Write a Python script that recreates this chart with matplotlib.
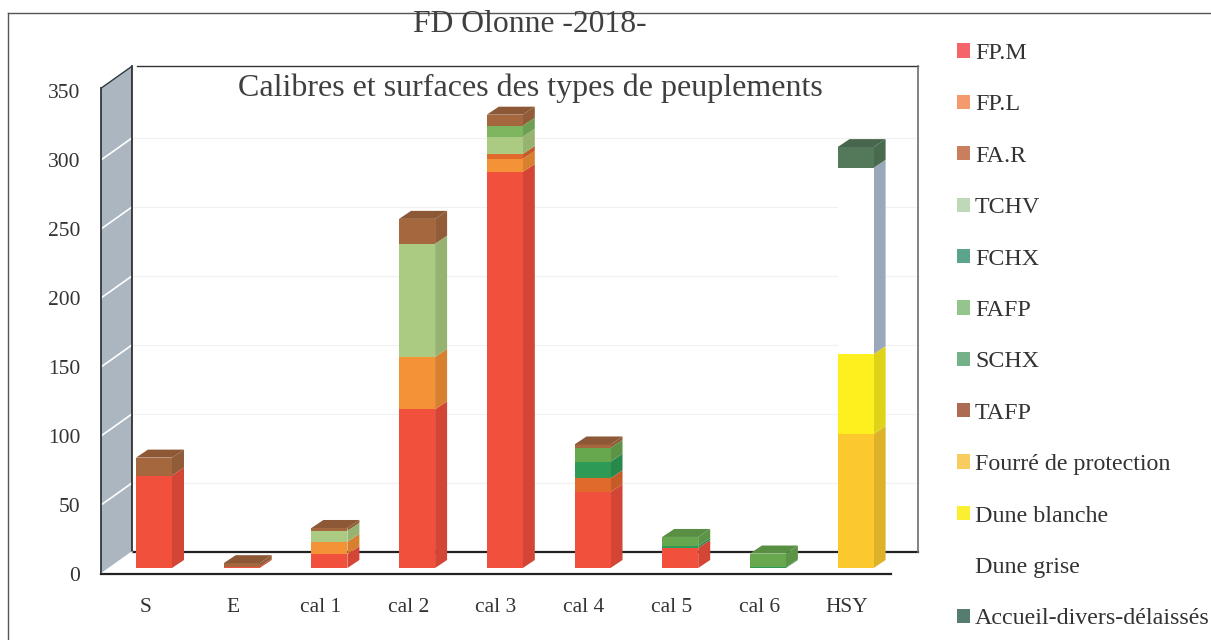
import matplotlib
matplotlib.use("Agg")
import matplotlib.pyplot as plt
from matplotlib.patches import Patch, Polygon
from matplotlib.colors import to_rgb
import numpy as np

plt.rcParams['font.family'] = ['Liberation Serif', 'DejaVu Serif']

W, H = 1211, 640

categories = ["S", "E", "cal 1", "cal 2", "cal 3", "cal 4", "cal 5", "cal 6", "HSY"]
series_names = ["FP.M", "FP.L", "FA.R", "TCHV", "FCHX", "FAFP", "SCHX", "TAFP",
                "Fourré de protection", "Dune blanche", "Dune grise",
                "Accueil-divers-délaissés"]

fp_m = [67, 1, 10, 115, 287, 55, 14.5, 0, 0]
fp_l = [0, 0, 9, 38, 9.5, 0, 0, 0, 0]
fa_r = [0, 0, 0, 0, 3.5, 10, 0, 0, 0]
tchv = [0, 0, 8, 82, 12.5, 0, 0, 0, 0]
fchx = [0, 0, 0, 0, 0, 12, 1.5, 0.5, 0]
fafp = [0, 0, 0, 0, 8, 0, 0, 0, 0]
schx = [0, 0, 0, 0, 0, 10, 6.5, 10, 0]
tafp = [13, 2.5, 2, 18, 8, 2.5, 0, 0, 0]
fourre = [0, 0, 0, 0, 0, 0, 0, 0, 97]
dune_blanche = [0, 0, 0, 0, 0, 0, 0, 0, 58]
dune_grise = [0, 0, 0, 0, 0, 0, 0, 0, 135]
accueil = [0, 0, 0, 0, 0, 0, 0, 0, 15]
values = [fp_m, fp_l, fa_r, tchv, fchx, fafp, schx, tafp, fourre, dune_blanche, dune_grise, accueil]

bar_colors = ["#F0503C", "#F39237", "#E0692C", "#ACCB82", "#2D9A55", "#7DB65E", "#67A84F",
              "#A5683E", "#FBC92D", "#FDF01E", "#FFFFFF", "#54785A"]
legend_colors = ["#F5646A", "#F49A6E", "#C97E5E", "#BFD9B8", "#5BA38A", "#93C58C", "#74B088",
                 "#AD6B53", "#F9CC5F", "#FBF030", "none", "#557C6E"]
yticks = [0, 50, 100, 150, 200, 250, 300, 350]

# pixel layout of the fake 3D box
px_left, px_right, px_y0 = 101, 891, 574
px_per_cat, px_per_val = 87.7, 1.38
first_center = 154
x_left = (px_left - first_center) / px_per_cat
x_right = (px_right - first_center) / px_per_cat
y_top = 352

wall_dx = 31 / px_per_cat
wall_dy = 22 / px_per_val
bar_dx = 12 / px_per_cat
bar_dy = 8 / px_per_val
lift = 6 / px_per_val
width = 36 / px_per_cat
back_right = (918 - first_center) / px_per_cat


def shade(c, k=0.88):
    return tuple(v * k for v in to_rgb(c))


fig = plt.figure(figsize=(W / 100, H / 100), dpi=100)
ax = fig.add_axes([px_left / W, 1 - px_y0 / H, (px_right - px_left) / W, (y_top * px_per_val) / H])
ax.set_xlim(x_left, x_right)
ax.set_ylim(0, y_top)
for s in ax.spines.values():
    s.set_visible(False)
ax.patch.set_visible(False)

# left wall
back = x_left + wall_dx
ax.add_patch(Polygon([(x_left, 0), (x_left, y_top), (back, y_top + wall_dy), (back, wall_dy)],
                     closed=True, fc="#ABB6C1", ec="none", clip_on=False, zorder=1))
for t in yticks[1:-1]:
    ax.plot([x_left, back], [t, t + wall_dy], color="white", lw=1.2, clip_on=False, zorder=2)
    ax.plot([back, back_right], [t + wall_dy, t + wall_dy], color="#F1F1F1", lw=0.9,
            clip_on=False, zorder=1)

# frame lines of the box
ax.plot([x_left, x_left], [0, y_top], color="#2F3A40", lw=1.3, clip_on=False, zorder=3)
ax.plot([back, back], [wall_dy, y_top + wall_dy], color="#222222", lw=1.2, clip_on=False, zorder=3)
ax.plot([x_left, back], [y_top, y_top + wall_dy], color="#2F3A40", lw=1.0, clip_on=False, zorder=3)
ax.plot([x_left, back], [0, wall_dy], color="white", lw=1, clip_on=False, zorder=3)
ax.plot([back + 0.06, back_right], [y_top + wall_dy] * 2, color="#333333", lw=1.0, clip_on=False, zorder=2)
ax.plot([back, back_right], [wall_dy, wall_dy], color="#222222", lw=1.6, clip_on=False, zorder=2)
ax.plot([back_right] * 2, [wall_dy, y_top + wall_dy], color="#666E74", lw=1.2, clip_on=False, zorder=2)
ax.plot([x_left, x_right], [0, 0], color="#222222", lw=1.6, clip_on=False, zorder=3)

# stacked bars with side and top faces
xs = np.arange(len(categories))
bottom = np.full(len(categories), lift, dtype=float)
for k, vals in enumerate(values):
    vals = np.array(vals, dtype=float)
    ax.bar(xs, vals, width, bottom=bottom, color=bar_colors[k], linewidth=0, zorder=6, clip_on=False)
    side = "#9AA8BC" if series_names[k] == "Dune grise" else shade(bar_colors[k])
    for i in xs:
        if vals[i] == 0:
            continue
        r = i + width / 2
        ax.add_patch(Polygon([(r, bottom[i]), (r + bar_dx, bottom[i] + bar_dy),
                              (r + bar_dx, bottom[i] + vals[i] + bar_dy), (r, bottom[i] + vals[i])],
                             closed=True, fc=side, ec="none", clip_on=False, zorder=5))
    bottom = bottom + vals

# top faces use the colour of the last series in each stack
for i in xs:
    last = [k for k in range(len(values)) if values[k][i] > 0][-1]
    l, r = i - width / 2, i + width / 2
    t = bottom[i]
    ax.add_patch(Polygon([(l, t), (r, t), (r + bar_dx, t + bar_dy), (l + bar_dx, t + bar_dy)],
                         closed=True, fc=shade(bar_colors[last], 0.85), ec="none", clip_on=False, zorder=7))

ax.set_yticks(yticks)
ax.set_xticks(xs - 0.1)
ax.set_xticklabels(categories)
ax.tick_params(axis='both', length=0, labelsize=15.5, labelcolor="#333333")
ax.tick_params(axis='y', pad=15)
ax.tick_params(axis='x', pad=17)

fig.text(530 / W, 1 - 25 / H, "FD Olonne -2018-", ha="center", va="center", fontsize=22.8, color="#3F3F3F")
fig.text(530 / W, 1 - 88 / H, "Calibres et surfaces des types de peuplements", ha="center", va="center",
         fontsize=23, color="#3F3F3F")

handles = [Patch(facecolor=c, edgecolor="none", label=n) for c, n in zip(legend_colors, series_names)]
leg = fig.legend(handles=handles, loc="upper left", bbox_to_anchor=(957 / W, 1 - 43 / H), frameon=False,
                 fontsize=17.3, labelspacing=1.265, handlelength=0.54, handleheight=0.54, handletextpad=0.21,
                 borderpad=0, borderaxespad=0, labelcolor="#333333")

# outer page frame
fig.add_artist(plt.Line2D([8 / W, 1], [1 - 13 / H] * 2, color="#555555", lw=1))
fig.add_artist(plt.Line2D([8 / W] * 2, [1 - 13 / H, 0], color="#555555", lw=1))

fig.savefig("out.png", dpi=100, facecolor="white")
